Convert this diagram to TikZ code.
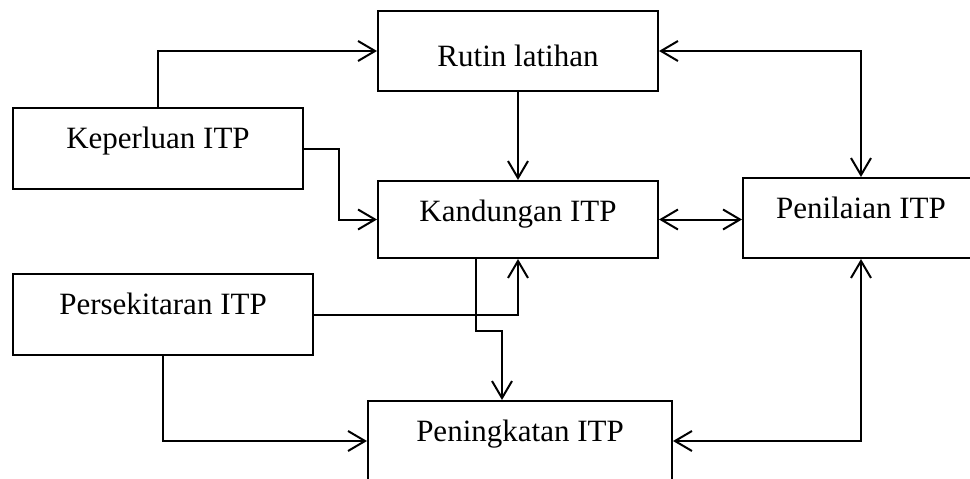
\documentclass[tikz,border=0pt]{standalone}
\usepackage{fontspec}
\setmainfont{Liberation Serif}
\usetikzlibrary{arrows.meta,positioning}
\tikzset{
  box/.style={draw,line width=2pt,inner sep=0pt,anchor=north west,
    text height=40pt,font=\fontsize{31}{37}\selectfont},
  arr/.style={line width=2pt,-{Straight Barb[length=17pt,width=20pt]}},
  dbl/.style={line width=2pt,{Straight Barb[length=17pt,width=20pt]}-{Straight Barb[length=17pt,width=20pt]}},
}
\begin{document}
\begin{tikzpicture}[x=1pt,y=-1pt]
    \useasboundingbox (0,0) rectangle (970,479);
    \clip (0,0) rectangle (970,479);
    % boxes
    \node[box,minimum width=280pt,text height=55pt,text depth=25pt] (rutin) at (377,10) {Rutin latihan};
    \node[box,minimum width=290pt,text depth=41pt] (keperluan) at (12,107) {Keperluan ITP};
    \node[box,minimum width=280pt,text depth=37pt] (kandungan) at (377,180) {Kandungan ITP};
    \node[box,minimum width=236pt,text depth=40pt] (penilaian) at (742,177) {Penilaian ITP};
    \node[box,minimum width=300pt,text depth=41pt] (persekitaran) at (12,273) {Persekitaran ITP};
    \node[box,minimum width=304pt,text depth=60pt] (peningkatan) at (367,400) {Peningkatan ITP};
    \coordinate (kbend) at (339,0);
    % connectors
    \draw[arr] (keperluan.north) |- (rutin.west);
    \draw[arr] (keperluan.east) -| (kbend |- kandungan.west) -- (kandungan.west);
    \draw[arr] (rutin.south) -- (kandungan.north);
    \draw[dbl] (rutin.east) -| (penilaian.north);
    \draw[dbl] (kandungan.east) -- (kandungan.east -| penilaian.west);
    \draw[arr] (persekitaran.east) -| (kandungan.south);
    \draw[arr] ([xshift=-42pt]kandungan.south) -- ++(0,72) -| ([xshift=-18pt]peningkatan.north);
    \draw[arr] (persekitaran.south) |- (peningkatan.base west);
    \draw[dbl] (penilaian.south) |- (peningkatan.base east);
\end{tikzpicture}
\end{document}
